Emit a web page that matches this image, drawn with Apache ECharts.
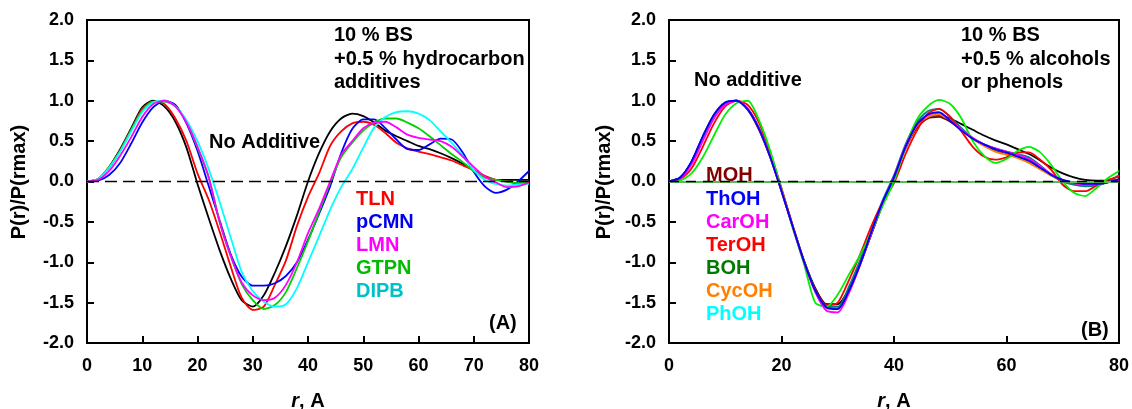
<!DOCTYPE html>
<html><head><meta charset="utf-8">
<script src="https://cdn.jsdelivr.net/npm/echarts@6/dist/echarts.min.js"></script>
<style>html,body{margin:0;padding:0;background:#fff}#c{width:1132px;height:409px}</style>
</head><body><div id="c"></div>
<script>
// r grid (Å)
const r = [0,2,4,6,8,10,12,14,16,18,20,22,24,26,28,30,32,34,36,38,40,42,44,46,48,50,52,54,56,58,60,62,64,66,68,70,72,74,76,78,80];
const yTicks = [-2.0,-1.5,-1.0,-0.5,0.0,0.5,1.0,1.5,2.0];

// Panel A: 10 % BS + 0.5 % hydrocarbon additives
const A_noAdd = [0,0.03,0.18,0.40,0.66,0.92,1.00,0.93,0.74,0.42,-0.03,-0.45,-0.85,-1.20,-1.47,-1.55,-1.41,-1.13,-0.80,-0.42,0.00,0.35,0.62,0.78,0.84,0.81,0.73,0.63,0.56,0.50,0.44,0.40,0.35,0.29,0.22,0.14,0.06,0.02,0.02,0.02,0.02];
const A_TLN   = [0,0.03,0.17,0.38,0.64,0.90,0.99,0.96,0.78,0.50,0.10,-0.22,-0.62,-1.05,-1.44,-1.59,-1.55,-1.28,-0.98,-0.55,-0.19,0.10,0.44,0.62,0.72,0.74,0.70,0.60,0.48,0.41,0.37,0.34,0.30,0.26,0.20,0.14,0.07,0.02,0.00,-0.02,0.00];
const A_pCMN  = [0,0.01,0.08,0.23,0.47,0.73,0.92,1.00,0.95,0.72,0.38,-0.05,-0.48,-0.90,-1.18,-1.29,-1.29,-1.26,-1.17,-1.00,-0.72,-0.40,-0.06,0.35,0.65,0.77,0.77,0.66,0.52,0.40,0.39,0.46,0.53,0.52,0.36,0.12,-0.06,-0.14,-0.10,0.00,0.13];
const A_LMN   = [0,0.02,0.13,0.32,0.55,0.80,0.96,1.00,0.93,0.73,0.43,0.06,-0.50,-0.92,-1.25,-1.41,-1.47,-1.44,-1.28,-1.00,-0.64,-0.34,0.00,0.33,0.50,0.66,0.73,0.74,0.67,0.58,0.54,0.52,0.50,0.43,0.31,0.18,0.06,-0.01,-0.07,-0.06,-0.01];
const A_GTPN  = [0,0.03,0.18,0.38,0.64,0.88,0.99,0.99,0.93,0.74,0.42,0.06,-0.50,-0.92,-1.27,-1.47,-1.58,-1.53,-1.37,-1.07,-0.74,-0.38,-0.02,0.30,0.48,0.63,0.73,0.78,0.78,0.73,0.66,0.56,0.45,0.34,0.24,0.13,0.05,0.02,0.00,-0.02,0.00];
const A_DIPB  = [0,0.03,0.17,0.37,0.62,0.86,0.98,1.00,0.93,0.76,0.50,0.16,-0.25,-0.69,-1.12,-1.36,-1.49,-1.55,-1.52,-1.32,-1.00,-0.68,-0.35,-0.07,0.15,0.42,0.67,0.80,0.86,0.87,0.84,0.76,0.62,0.48,0.32,0.14,0.02,-0.03,-0.05,-0.04,-0.03];

// Panel B: 10 % BS + 0.5 % alcohols or phenols
const B_noAdd = [0,0.05,0.24,0.55,0.82,0.97,1.00,0.90,0.66,0.32,-0.10,-0.55,-0.98,-1.32,-1.52,-1.52,-1.33,-1.02,-0.65,-0.28,0.05,0.42,0.68,0.80,0.82,0.78,0.71,0.64,0.57,0.51,0.46,0.40,0.34,0.26,0.17,0.10,0.05,0.02,0.01,0.01,0.02];
const B_MOH   = [0,0.05,0.24,0.55,0.82,0.97,1.00,0.89,0.64,0.30,-0.12,-0.56,-0.99,-1.35,-1.56,-1.57,-1.35,-1.02,-0.64,-0.27,0.05,0.40,0.66,0.78,0.80,0.74,0.64,0.53,0.45,0.38,0.34,0.30,0.24,0.16,0.08,0.01,-0.03,-0.05,-0.04,-0.01,0.02];
const B_ThOH  = [0,0.05,0.25,0.56,0.83,0.98,1.00,0.89,0.65,0.30,-0.12,-0.56,-0.99,-1.35,-1.56,-1.58,-1.35,-1.02,-0.62,-0.25,0.05,0.42,0.70,0.83,0.86,0.75,0.63,0.53,0.46,0.40,0.36,0.31,0.26,0.17,0.08,0.02,-0.01,-0.03,-0.03,-0.01,0.03];
const B_CarOH = [0,0.04,0.21,0.50,0.78,0.95,1.00,0.90,0.66,0.30,-0.12,-0.56,-1.00,-1.37,-1.60,-1.62,-1.38,-1.03,-0.63,-0.25,0.06,0.43,0.70,0.82,0.85,0.76,0.64,0.54,0.46,0.41,0.37,0.33,0.28,0.19,0.09,0.02,-0.02,-0.04,-0.03,-0.01,0.02];
const B_TerOH = [0,0.03,0.16,0.43,0.72,0.93,1.00,0.95,0.73,0.36,-0.08,-0.55,-0.99,-1.34,-1.53,-1.50,-1.22,-0.90,-0.55,-0.25,-0.02,0.33,0.62,0.84,0.90,0.80,0.62,0.43,0.31,0.27,0.30,0.36,0.36,0.27,0.14,-0.04,-0.12,-0.12,-0.05,0.02,0.06];
const B_BOH   = [0,0.05,0.24,0.55,0.82,0.97,1.00,0.90,0.66,0.31,-0.11,-0.55,-0.98,-1.34,-1.55,-1.55,-1.30,-0.97,-0.60,-0.23,0.08,0.45,0.73,0.87,0.90,0.80,0.66,0.54,0.46,0.41,0.37,0.34,0.30,0.20,0.08,0.00,-0.04,-0.06,-0.05,-0.01,0.08];
const B_CycOH = [0,0.05,0.24,0.55,0.82,0.97,1.00,0.89,0.65,0.30,-0.12,-0.56,-0.99,-1.36,-1.57,-1.58,-1.36,-1.02,-0.63,-0.26,0.05,0.41,0.68,0.80,0.83,0.76,0.65,0.53,0.44,0.37,0.33,0.29,0.23,0.15,0.07,0.00,-0.04,-0.05,-0.04,-0.01,0.03];
const B_PhOH  = [0,0.01,0.10,0.30,0.57,0.83,0.97,1.00,0.76,0.38,-0.10,-0.58,-1.02,-1.50,-1.55,-1.40,-1.15,-0.91,-0.62,-0.30,0.00,0.42,0.76,0.93,1.01,0.96,0.78,0.50,0.32,0.23,0.28,0.38,0.43,0.36,0.20,0.00,-0.14,-0.18,-0.08,0.04,0.13];

const FONT = '"Liberation Sans", Arial, sans-serif';
const pair = v => r.map((x, i) => [x, v[i]]);

function line(name, data, color, xi) {
  return { name, type: 'line', xAxisIndex: xi, yAxisIndex: xi, data: pair(data),
    showSymbol: false, symbol: 'none', smooth: 0.25, lineStyle: { color, width: 1.8 }, z: 3, silent: true };
}
function zeroLine(xi, style) {
  return { type: 'line', xAxisIndex: xi, yAxisIndex: xi, data: [], silent: true, z: 2,
    markLine: { symbol: 'none', silent: true, label: { show: false }, animation: false,
      data: style.map(s => ({ yAxis: 0, lineStyle: s })) } };
}
function xAxis(gi, interval) {
  return { type: 'value', gridIndex: gi, min: 0, max: 80, interval,
    axisLine: { show: true, onZero: false, lineStyle: { color: '#000', width: 2 } },
    axisTick: { show: true, inside: true, length: 7, lineStyle: { color: '#000', width: 2 } },
    axisLabel: { margin: 14, color: '#000', fontFamily: FONT, fontWeight: 'bold', fontSize: 18 },
    splitLine: { show: false } };
}
function yAxis(gi) {
  return { type: 'value', gridIndex: gi, min: -2, max: 2, interval: 0.5,
    axisLine: { show: true, onZero: false, lineStyle: { color: '#000', width: 2 } },
    axisTick: { show: true, inside: true, length: 7, lineStyle: { color: '#000', width: 2 } },
    axisLabel: { margin: 13, color: '#000', fontFamily: FONT, fontWeight: 'bold', fontSize: 18,
      formatter: v => v.toFixed(1) },
    splitLine: { show: false } };
}
function txt(text, x, y, color, opts) {
  return Object.assign({ type: 'text', x, y, silent: true,
    style: { text, fill: color || '#000', font: 'bold 20px ' + FONT, textAlign: 'left', textVerticalAlign: 'middle' } }, opts || {});
}
function vtxt(x, y) {
  return { type: 'text', x, y, rotation: Math.PI / 2, silent: true,
    style: { text: 'P(r)/P(rmax)', fill: '#000', font: 'bold 20px ' + FONT, textAlign: 'center', textVerticalAlign: 'middle' } };
}
function xtitle(x, y) {
  return { type: 'text', x, y, silent: true, style: {
    rich: { i: { fontStyle: 'italic', fontWeight: 'bold', fontSize: 20, fontFamily: FONT },
            n: { fontWeight: 'bold', fontSize: 20, fontFamily: FONT } },
    text: '{i|r}{n|, A}', textAlign: 'center', textVerticalAlign: 'middle', fill: '#000' } };
}

const chart = echarts.init(document.getElementById('c'), null, { renderer: 'canvas' });
chart.setOption({
  animation: false,
  backgroundColor: '#fff',
  grid: [
    { left: 87, top: 20, width: 442, height: 323, show: true, borderColor: '#000', borderWidth: 2, backgroundColor: 'transparent' },
    { left: 669, top: 20, width: 451, height: 323, show: true, borderColor: '#000', borderWidth: 2, backgroundColor: 'transparent' }
  ],
  xAxis: [xAxis(0, 10), xAxis(1, 20)],
  yAxis: [yAxis(0), yAxis(1)],
  series: [
    zeroLine(0, [{ color: '#000', width: 1.3, type: [12, 6] }]),
    line('No Additive', A_noAdd, '#000000', 0),
    line('TLN', A_TLN, '#ff0000', 0),
    line('pCMN', A_pCMN, '#0000ff', 0),
    line('GTPN', A_GTPN, '#00d000', 0),
    line('DIPB', A_DIPB, '#00ffff', 0),
    line('LMN', A_LMN, '#ff00ff', 0),
    zeroLine(1, [{ color: '#5cb85c', width: 2, type: 'solid' }, { color: '#000', width: 1.3, type: [10, 7] }]),
    line('No additive', B_noAdd, '#000000', 1),
    line('MOH', B_MOH, '#800000', 1),
    line('CycOH', B_CycOH, '#ff8000', 1),
    line('BOH', B_BOH, '#008080', 1),
    line('TerOH', B_TerOH, '#ff0000', 1),
    line('PhOH', B_PhOH, '#00f000', 1),
    line('CarOH', B_CarOH, '#ff00ff', 1),
    line('ThOH', B_ThOH, '#0000ff', 1)
  ],
  graphic: [
    txt('10 % BS', 334, 35), txt('+0.5 % hydrocarbon', 334, 59), txt('additives', 334, 82),
    txt('No Additive', 209, 142),
    txt('TLN', 356, 199, '#ff0000'), txt('pCMN', 356, 222, '#0000ee'), txt('LMN', 356, 245, '#ff00ff'),
    txt('GTPN', 356, 268, '#00bb00'), txt('DIPB', 356, 291, '#00c0c8'),
    txt('(A)', 489, 323),
    txt('10 % BS', 961, 35), txt('+0.5 % alcohols', 961, 59), txt('or phenols', 961, 82),
    txt('No additive', 694, 80),
    txt('MOH', 706, 175, '#800000'), txt('ThOH', 706, 199, '#0000ff'), txt('CarOH', 706, 222, '#ff00ff'),
    txt('TerOH', 706, 245, '#ff0000'), txt('BOH', 706, 268, '#007a00'), txt('CycOH', 706, 291, '#ff8000'),
    txt('PhOH', 706, 314, '#00ffff'),
    txt('(B)', 1081, 330),
    vtxt(19, 182), vtxt(604, 182),
    xtitle(308, 401), xtitle(894, 401)
  ]
});
</script></body></html>
